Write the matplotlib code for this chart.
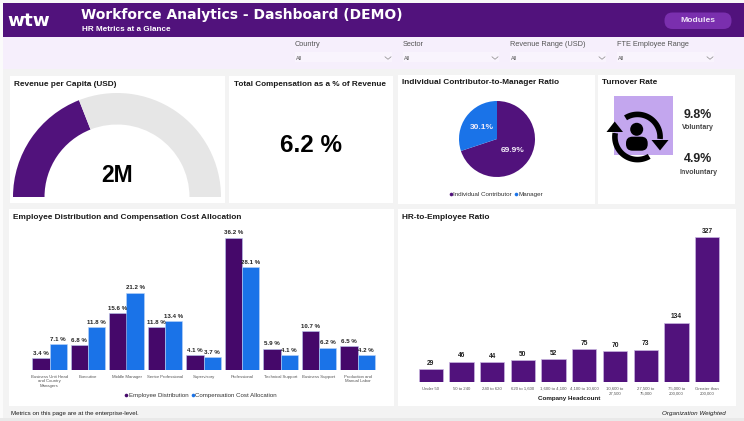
import numpy as np
import matplotlib
matplotlib.use("Agg")
import matplotlib.pyplot as plt
from matplotlib.lines import Line2D
from matplotlib.patches import Circle, FancyBboxPatch, Polygon, Rectangle

W, H = 744, 421
SANS = "Liberation Sans"
WIDE = "DejaVu Sans"

PURPLE = "#51127C"
DEEP_PURPLE = "#45086A"
BLUE = "#1A73E8"
GREY = "#E6E6E6"
INK = "#1A1A1A"

revenue_per_capita_musd = 2.0
gauge_max_musd = 5.25
compensation_pct = 6.2
pie_labels = ["Individual Contributor", "Manager"]
pie_values = [69.9, 30.1]
voluntary_pct = 9.8
involuntary_pct = 4.9

job_levels = [
    "Business Unit Head\nand Country\nManagers", "Executive", "Middle Manager",
    "Senior Professional", "Supervisory", "Professional", "Technical Support",
    "Business Support", "Production and\nManual Labor",
]
employee_distribution = [3.4, 6.8, 15.6, 11.8, 4.1, 36.2, 5.9, 10.7, 6.5]
compensation_allocation = [7.1, 11.8, 21.2, 13.4, 3.7, 28.1, 4.1, 6.2, 4.2]

headcount_bands = [
    "Under 50", "50 to 240", "240 to 620", "620 to 1,600", "1,600 to 4,100",
    "4,100 to 10,600", "10,600 to\n27,500", "27,500 to\n75,000",
    "75,000 to\n200,000", "Greater than\n200,000",
]
hr_ratio = [29, 46, 44, 50, 52, 75, 70, 73, 134, 327]

filter_names = ["Country", "Sector", "Revenue Range (USD)", "FTE Employee Range"]
filter_x = [295, 403, 510, 617]
filter_right = [392, 499, 606, 714]

fig = plt.figure(figsize=(W / 100, H / 100), dpi=100, facecolor="#F3F3F3")


def box_axes(left, top, right, bottom, **kw):
    """Axes placed by pixel box, measured from the top-left of the figure."""
    return fig.add_axes(
        [left / W, 1 - bottom / H, (right - left) / W, (bottom - top) / H], **kw
    )


page = box_axes(0, 0, W, H)
page.set_xlim(0, W)
page.set_ylim(H, 0)
page.axis("off")


def rect(x0, y0, x1, y1, color, **kw):
    page.add_patch(Rectangle((x0, y0), x1 - x0, y1 - y0, fc=color, ec="none", **kw))


def label(x, y, s, size, weight="normal", color=INK, ha="left", family=SANS, **kw):
    page.text(x, y, s, fontsize=size, fontweight=weight, color=color, ha=ha,
              va="center", family=family, **kw)


# Page frame, banner and filter strip
rect(0, 0, 2.7, H, "#FBFBFB")
rect(0, 0, W, 3.3, "#F7F7F7")
rect(2.7, 3.3, W, 37, PURPLE)
rect(2.7, 37, W, 69, "#F6EFFC")
rect(2.7, 36.6, W, 37.4, "#A57FC4")
rect(0, 418, W, H, "#E9E9E9")

label(7.5, 21, "wtw", 13.2, "bold", "white", family=WIDE)
label(81, 15.5, "Workforce Analytics - Dashboard (DEMO)", 10.0, "bold", "white", family=WIDE)
label(81.5, 29.3, "HR Metrics at a Glance", 5.9, "bold", "white")

page.add_patch(FancyBboxPatch((664.5, 12.5), 67, 16.5, boxstyle="round,pad=0,rounding_size=8",
                              fc="#7A2FAE", ec="none"))
label(698, 20.8, "Modules", 6.1, "bold", "#EFE4F8", ha="center")

for name, x0, x1 in zip(filter_names, filter_x, filter_right):
    label(x0, 45, name, 5.35, "normal", "#555555")
    rect(x0 - 0.5, 52, x1, 62, "#F9F4FD")
    label(x0 + 1, 58, "All", 3.9, "normal", "#555555")
    page.plot([x1 - 7, x1 - 4, x1 - 1], [56.8, 59.3, 56.8], color="#8A8A8A", lw=0.5)

# White cards behind each visual
for x0, y0, x1, y1 in [(10, 76, 225, 203), (229, 76, 393, 203), (398, 75, 595, 204),
                       (598, 75, 735, 204), (9, 209, 394, 405.5), (398, 209, 735.5, 405.5)]:
    rect(x0, y0, x1, y1, "white")

label(14, 84.5, "Revenue per Capita (USD)", 5.95, "bold")
label(234, 84, "Total Compensation as a % of Revenue", 5.9, "bold")
label(402, 83, "Individual Contributor-to-Manager Ratio", 5.95, "bold")
label(602, 83, "Turnover Rate", 5.95, "bold")
label(13, 217.5, "Employee Distribution and Compensation Cost Allocation", 5.95, "bold")
label(402, 217.5, "HR-to-Employee Ratio", 5.95, "bold")

label(11, 414, "Metrics on this page are at the enterprise-level.", 4.45, "normal")
label(662, 414, "Organization Weighted", 4.5, "normal", style="italic")

# Gauge: a half ring, with the unused lower half left transparent
gauge = box_axes(13, 93, 221, 301)
gauge.patch.set_alpha(0)
gauge.pie(
    [revenue_per_capita_musd, gauge_max_musd - revenue_per_capita_musd, gauge_max_musd],
    colors=[PURPLE, GREY, "none"], startangle=180, counterclock=False, radius=1,
    wedgeprops={"width": 0.303, "linewidth": 0},
)
gauge.set_xlim(-1, 1)
gauge.set_ylim(-1, 1)
label(117, 175.5, f"{revenue_per_capita_musd:.0f}M", 16.5, "bold", "black", ha="center")

label(311, 146, f"{compensation_pct} %", 17.5, "bold", "black", ha="center")

# Pie with its legend
pie_ax = box_axes(459, 101, 535, 177)
pie_ax.patch.set_alpha(0)
_, _, pct_texts = pie_ax.pie(
    pie_values, colors=[PURPLE, BLUE], startangle=90, counterclock=False, radius=1,
    autopct="%.1f%%", pctdistance=0.5, wedgeprops={"linewidth": 0},
)
for t in pct_texts:
    t.set(color="#F4EEFA", fontsize=6, fontweight="bold", family=SANS)
pie_ax.set_xlim(-1, 1)
pie_ax.set_ylim(-1, 1)


def dot_legend(ax, names, colors, anchor, size, column_gap):
    handles = [Line2D([], [], ls="", marker="o", ms=2.6, mfc=c, mec="none") for c in colors]
    ax.legend(handles, names, ncol=len(names), loc="center", frameon=False,
              bbox_to_anchor=anchor, bbox_transform=page.transData,
              handlelength=0.35, handletextpad=0.25, columnspacing=column_gap,
              borderpad=0, borderaxespad=0,
              prop={"family": SANS, "size": size}, labelcolor="#333333")


dot_legend(pie_ax, pie_labels, [PURPLE, BLUE], (496.5, 194), 4.5, 0.5)

# Turnover icon: lavender tile, two circular arrows and a person
rect(613.7, 96, 673, 155, "#C3A6EE")


def arc_band(cx, cy, r_in, r_out, a0, a1):
    angles = np.radians(np.linspace(a0, a1, 60))
    outer = np.c_[cx + r_out * np.cos(angles), cy - r_out * np.sin(angles)]
    inner = np.c_[cx + r_in * np.cos(angles[::-1]), cy - r_in * np.sin(angles[::-1])]
    page.add_patch(Polygon(np.r_[outer, inner], closed=True, fc="black", ec="none"))


arc_band(637.5, 137, 19.8, 25.4, 122, -5)
arc_band(637.5, 137, 19.8, 25.4, -59, -190)
page.add_patch(Polygon([(651.5, 140), (668.5, 140), (660, 150.5)], fc="black", ec="none"))
page.add_patch(Polygon([(606.5, 132), (623, 132), (614.7, 121.5)], fc="black", ec="none"))
page.add_patch(Circle((636.7, 129.3), 6.5, fc="black", ec="none"))
page.add_patch(FancyBboxPatch((626, 136.7), 21.7, 14, boxstyle="round,pad=0,rounding_size=6.5",
                              fc="black", ec="none"))

label(698, 115, f"{voluntary_pct}%", 8.9, "bold", "#222222", ha="center")
label(698, 127.8, "Voluntary", 5, "bold", "#444444", ha="center")
label(698, 159, f"{involuntary_pct}%", 8.9, "bold", "#222222", ha="center")
label(698, 172, "Involuntary", 5, "bold", "#444444", ha="center")


def strip_axes(ax, pad):
    for side in ax.spines.values():
        side.set_visible(False)
    ax.yaxis.set_visible(False)
    ax.patch.set_alpha(0)
    ax.tick_params(axis="x", length=0, pad=pad, labelsize=3.1, labelcolor="#555555")
    for t in ax.get_xticklabels():
        t.set(family=SANS, linespacing=1.15)


# Grouped bars: employee share against compensation share
groups = np.arange(len(job_levels))
bar_w = 17.2 / 38.5
dist_ax = box_axes(30.25, 223.8, 376.75, 370.3)
dist_ax.set_xlim(-0.5, len(job_levels) - 0.5)
dist_ax.set_ylim(0, 40)
emp_bars = dist_ax.bar(groups - bar_w / 2, employee_distribution, bar_w, color=DEEP_PURPLE,
                       edgecolor="#B9C9F0", linewidth=0.4, label="Employee Distribution")
comp_bars = dist_ax.bar(groups + bar_w / 2, compensation_allocation, bar_w, color=BLUE,
                        edgecolor="#B9D4F8", linewidth=0.4, label="Compensation Cost Allocation")
for bars in (emp_bars, comp_bars):
    dist_ax.bar_label(bars, fmt="%.1f %%", padding=1.6, fontsize=4.4, fontweight="bold",
                      family=SANS, color="#222222")
dist_ax.set_xticks(groups, job_levels)
strip_axes(dist_ax, 3.4)
dot_legend(dist_ax, ["Employee Distribution", "Compensation Cost Allocation"],
           [DEEP_PURPLE, BLUE], (201, 395.7), 4.45, 0.55)

# Single series bars by headcount band
bands = np.arange(len(headcount_bands))
hr_ax = box_axes(415.45, 227, 722.45, 382)
hr_ax.set_xlim(-0.5, len(headcount_bands) - 0.5)
hr_ax.set_ylim(0, 349.6)
hr_bars = hr_ax.bar(bands, hr_ratio, 24.3 / 30.7, color=PURPLE, edgecolor="#C9B5E0", linewidth=0.5)
hr_ax.bar_label(hr_bars, padding=1.6, fontsize=4.8, fontweight="bold", family=SANS, color="#222222")
hr_ax.set_xticks(bands, headcount_bands)
strip_axes(hr_ax, 3.4)
label(569, 398.7, "Company Headcount", 4.5, "bold", ha="center")

fig.savefig("out.png", dpi=100, facecolor=fig.get_facecolor())
